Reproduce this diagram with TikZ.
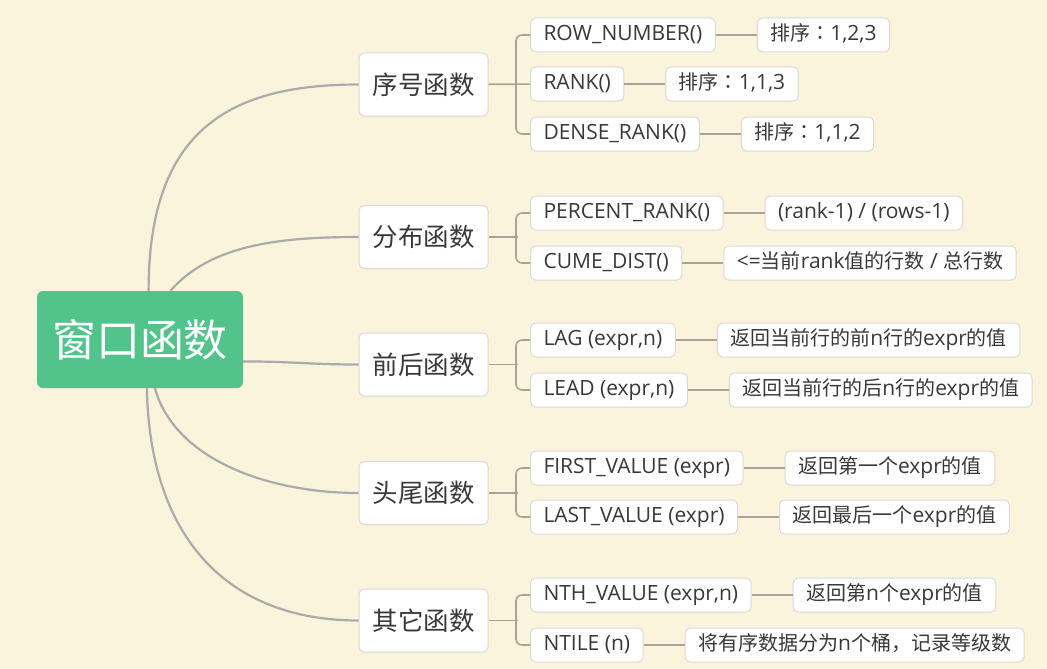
\documentclass[tikz,border=0pt]{standalone}
\usepackage{fontspec}
\setmainfont{Open Sans}
\newfontfamily\cjk{Noto Sans CJK SC}
\newfontfamily\cjkmark{Noto Sans CJK TC}
\usepackage{tikz}
\usetikzlibrary{positioning}
\definecolor{paper}{HTML}{FBF4DC}
\definecolor{rootgreen}{HTML}{52C48B}
\definecolor{branch}{HTML}{ABABAB}
\definecolor{twig}{HTML}{A9A396}
\definecolor{frame}{HTML}{D9D9D9}
\definecolor{ink}{HTML}{383838}
\newcommand{\zh}[1]{{\cjk\fontsize{20}{24}\selectfont #1}}
\newcommand{\zhcolon}{{\cjkmark\fontsize{20}{24}\selectfont ：}}
\tikzset{
  rootbox/.style={fill=rootgreen, rounded corners=6pt, minimum width=206pt, minimum height=97pt, text=white, font=\cjk\fontsize{44}{50}\selectfont},
  groupbox/.style={fill=white, draw=frame, line width=1pt, rounded corners=5pt, minimum width=129pt, minimum height=63pt, text=ink, font=\cjk\fontsize{25.5}{30}\selectfont},
  funcbox/.style={fill=white, draw=frame, line width=1pt, rounded corners=5pt, minimum height=34pt, inner xsep=13pt, inner ysep=0pt, text height=15pt, text depth=4pt, text=ink, font=\fontsize{21}{24}\selectfont, anchor=west},
  branchline/.style={draw=branch, line width=2.2pt},
  twigline/.style={draw=twig, line width=1.6pt}
}
\begin{document}
\begin{tikzpicture}[x=1pt, y=-1pt, node distance=41pt]
  \useasboundingbox[fill=paper] (0,0) rectangle (1047,669);

  \node[rootbox] (win) at (140,339.5) {窗口函数};

  \node[groupbox] (seq)  at (423.5,84.5)  {序号函数};
  \node[groupbox] (dist) at (423.5,237)   {分布函数};
  \node[groupbox] (off)  at (423.5,364.5) {前后函数};
  \node[groupbox] (ends) at (423.5,493)   {头尾函数};
  \node[groupbox] (misc) at (423.5,620.5) {其它函数};

  \node[funcbox] (rownum) at (530,35)  {ROW\_NUMBER()};
  \node[funcbox] (rank)   at (530,84)  {RANK()};
  \node[funcbox] (dense)  at (530,134) {DENSE\_RANK()};
  \node[funcbox] (prank)  at (530,213) {PERCENT\_RANK()};
  \node[funcbox] (cume)   at (530,263) {CUME\_DIST()};
  \node[funcbox] (lag)    at (530,340) {LAG (expr,n)};
  \node[funcbox] (lead)   at (530,390) {LEAD (expr,n)};
  \node[funcbox] (first)  at (530,468) {FIRST\_VALUE (expr)};
  \node[funcbox] (last)   at (530,517) {LAST\_VALUE (expr)};
  \node[funcbox] (nth)    at (530,595) {NTH\_VALUE (expr,n)};
  \node[funcbox] (ntile)  at (530,645) {NTILE (n)};

  \node[funcbox, right=of rownum] (rownumv) {\zh{排序}\zhcolon1,2,3};
  \node[funcbox, right=of rank]   (rankv)   {\zh{排序}\zhcolon1,1,3};
  \node[funcbox, right=of dense]  (densev)  {\zh{排序}\zhcolon1,1,2};
  \node[funcbox, right=of prank]  (prankv)  {(rank-1) / (rows-1)};
  \node[funcbox, right=of cume]   (cumev)   {<=\zh{当前}rank\zh{值的行数} / \zh{总行数}};
  \node[funcbox, right=of lag]    (lagv)    {\zh{返回当前行的前}n\zh{行的}expr\zh{的值}};
  \node[funcbox, right=of lead]   (leadv)   {\zh{返回当前行的后}n\zh{行的}expr\zh{的值}};
  \node[funcbox, right=of first]  (firstv)  {\zh{返回第一个}expr\zh{的值}};
  \node[funcbox, right=of last]   (lastv)   {\zh{返回最后一个}expr\zh{的值}};
  \node[funcbox, right=of nth]    (nthv)    {\zh{返回第}n\zh{个}expr\zh{的值}};
  \node[funcbox, right=of ntile]  (ntilev)  {\zh{将有序数据分为}n\zh{个桶，记录等级数}};

  % root to groups
  \draw[branchline] (win.80)  .. controls +(0,-161) and +(-129,0) .. (seq.west);
  \draw[branchline] (win.58)  .. controls +(40,-46) and +(-79,0) .. (dist.west);
  \draw[branchline] (win.-12) .. controls +(50,0) and +(-50,0) .. (off.west);
  \draw[branchline] (win.-73) .. controls +(20,72) and +(-89,0) .. (ends.west);
  \draw[branchline] (win.-82) .. controls +(3,152) and +(-129,0) .. (misc.west);

  % forks
  \path (dist.east) ++(29,0) coordinate (distfork);
  \path (off.east)  ++(29,0) coordinate (offfork);
  \path (ends.east) ++(29,0) coordinate (endsfork);
  \path (misc.east) ++(29,0) coordinate (miscfork);

  \draw[twigline] (seq) -- (rank);
  \draw[twigline] (dist) -- (distfork);
  \draw[twigline] (off) -- (offfork);
  \draw[twigline] (ends) -- (endsfork);
  \draw[twigline] (misc) -- (miscfork);

  \draw[twigline, rounded corners=6pt] (rownum.west) -- ++(-14,0) |- (dense.west);
  \draw[twigline, rounded corners=6pt] (prank.west) -- ++(-14,0) |- (cume.west);
  \draw[twigline, rounded corners=6pt] (lag.west) -- ++(-14,0) |- (lead.west);
  \draw[twigline, rounded corners=6pt] (first.west) -- ++(-14,0) |- (last.west);
  \draw[twigline, rounded corners=6pt] (nth.west) -- ++(-14,0) |- (ntile.west);

  % functions to notes
  \draw[twigline] (rownum) -- (rownumv);
  \draw[twigline] (rank) -- (rankv);
  \draw[twigline] (dense) -- (densev);
  \draw[twigline] (prank) -- (prankv);
  \draw[twigline] (cume) -- (cumev);
  \draw[twigline] (lag) -- (lagv);
  \draw[twigline] (lead) -- (leadv);
  \draw[twigline] (first) -- (firstv);
  \draw[twigline] (last) -- (lastv);
  \draw[twigline] (nth) -- (nthv);
  \draw[twigline] (ntile) -- (ntilev);
\end{tikzpicture}
\end{document}
